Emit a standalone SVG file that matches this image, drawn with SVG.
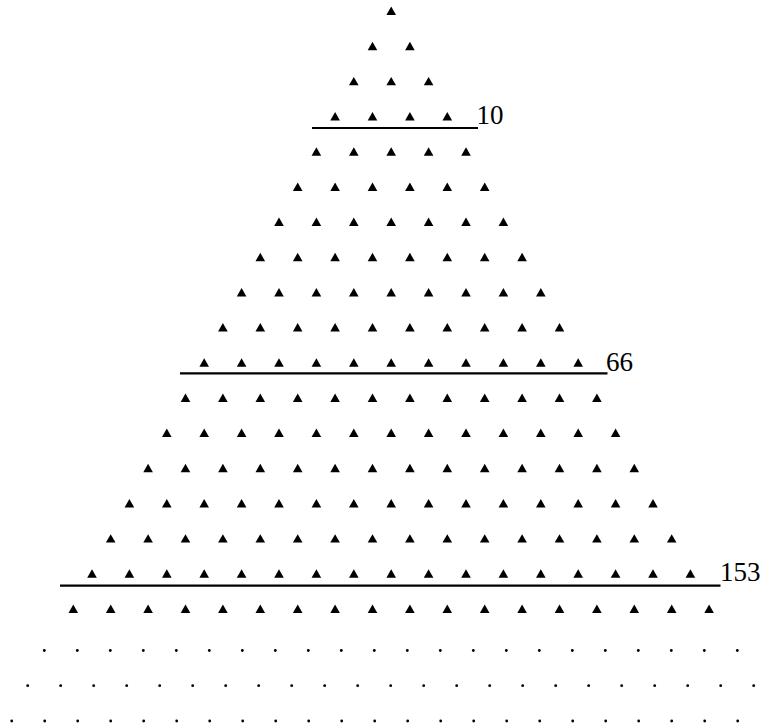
<svg xmlns="http://www.w3.org/2000/svg" xmlns:xlink="http://www.w3.org/1999/xlink" width="766" height="728" viewBox="0 0 766 728">
<style>
.sep{stroke:#000;stroke-width:2.2;fill:none}
.lbl{font-family:"Liberation Serif","Times New Roman",serif;font-size:27px;fill:#000}
.dot{fill:#000}
</style>
<defs>
<path id="t" d="M0,-8.4 L4.8,0 L-4.8,0 Z" fill="#000"/>
<circle id="d" r="1.4" fill="#000"/>
</defs>
<rect width="766" height="728" fill="#fff"/>
<g id="triangles">
<g id="row1" transform="translate(391.2,15)"><use href="#t" x="0"/></g>
<g id="row2" transform="translate(372.5,50.2)"><use href="#t" x="0"/><use href="#t" x="37.4"/></g>
<g id="row3" transform="translate(353.8,85.3)"><use href="#t" x="0"/><use href="#t" x="37.4"/><use href="#t" x="74.8"/></g>
<g id="row4" transform="translate(335.1,120.5)"><use href="#t" x="0"/><use href="#t" x="37.4"/><use href="#t" x="74.8"/><use href="#t" x="112.2"/></g>
<g id="row5" transform="translate(316.4,155.7)"><use href="#t" x="0"/><use href="#t" x="37.4"/><use href="#t" x="74.8"/><use href="#t" x="112.2"/><use href="#t" x="149.6"/></g>
<g id="row6" transform="translate(297.7,190.9)"><use href="#t" x="0"/><use href="#t" x="37.4"/><use href="#t" x="74.8"/><use href="#t" x="112.2"/><use href="#t" x="149.6"/><use href="#t" x="187"/></g>
<g id="row7" transform="translate(279,226)"><use href="#t" x="0"/><use href="#t" x="37.4"/><use href="#t" x="74.8"/><use href="#t" x="112.2"/><use href="#t" x="149.6"/><use href="#t" x="187"/><use href="#t" x="224.4"/></g>
<g id="row8" transform="translate(260.3,261.2)"><use href="#t" x="0"/><use href="#t" x="37.4"/><use href="#t" x="74.8"/><use href="#t" x="112.2"/><use href="#t" x="149.6"/><use href="#t" x="187"/><use href="#t" x="224.4"/><use href="#t" x="261.8"/></g>
<g id="row9" transform="translate(241.6,296.4)"><use href="#t" x="0"/><use href="#t" x="37.4"/><use href="#t" x="74.8"/><use href="#t" x="112.2"/><use href="#t" x="149.6"/><use href="#t" x="187"/><use href="#t" x="224.4"/><use href="#t" x="261.8"/><use href="#t" x="299.2"/></g>
<g id="row10" transform="translate(222.9,331.5)"><use href="#t" x="0"/><use href="#t" x="37.4"/><use href="#t" x="74.8"/><use href="#t" x="112.2"/><use href="#t" x="149.6"/><use href="#t" x="187"/><use href="#t" x="224.4"/><use href="#t" x="261.8"/><use href="#t" x="299.2"/><use href="#t" x="336.6"/></g>
<g id="row11" transform="translate(204.2,366.7)"><use href="#t" x="0"/><use href="#t" x="37.4"/><use href="#t" x="74.8"/><use href="#t" x="112.2"/><use href="#t" x="149.6"/><use href="#t" x="187"/><use href="#t" x="224.4"/><use href="#t" x="261.8"/><use href="#t" x="299.2"/><use href="#t" x="336.6"/><use href="#t" x="374"/></g>
<g id="row12" transform="translate(185.5,401.9)"><use href="#t" x="0"/><use href="#t" x="37.4"/><use href="#t" x="74.8"/><use href="#t" x="112.2"/><use href="#t" x="149.6"/><use href="#t" x="187"/><use href="#t" x="224.4"/><use href="#t" x="261.8"/><use href="#t" x="299.2"/><use href="#t" x="336.6"/><use href="#t" x="374"/><use href="#t" x="411.4"/></g>
<g id="row13" transform="translate(166.8,437)"><use href="#t" x="0"/><use href="#t" x="37.4"/><use href="#t" x="74.8"/><use href="#t" x="112.2"/><use href="#t" x="149.6"/><use href="#t" x="187"/><use href="#t" x="224.4"/><use href="#t" x="261.8"/><use href="#t" x="299.2"/><use href="#t" x="336.6"/><use href="#t" x="374"/><use href="#t" x="411.4"/><use href="#t" x="448.8"/></g>
<g id="row14" transform="translate(148.1,472.2)"><use href="#t" x="0"/><use href="#t" x="37.4"/><use href="#t" x="74.8"/><use href="#t" x="112.2"/><use href="#t" x="149.6"/><use href="#t" x="187"/><use href="#t" x="224.4"/><use href="#t" x="261.8"/><use href="#t" x="299.2"/><use href="#t" x="336.6"/><use href="#t" x="374"/><use href="#t" x="411.4"/><use href="#t" x="448.8"/><use href="#t" x="486.2"/></g>
<g id="row15" transform="translate(129.4,507.4)"><use href="#t" x="0"/><use href="#t" x="37.4"/><use href="#t" x="74.8"/><use href="#t" x="112.2"/><use href="#t" x="149.6"/><use href="#t" x="187"/><use href="#t" x="224.4"/><use href="#t" x="261.8"/><use href="#t" x="299.2"/><use href="#t" x="336.6"/><use href="#t" x="374"/><use href="#t" x="411.4"/><use href="#t" x="448.8"/><use href="#t" x="486.2"/><use href="#t" x="523.6"/></g>
<g id="row16" transform="translate(110.7,542.6)"><use href="#t" x="0"/><use href="#t" x="37.4"/><use href="#t" x="74.8"/><use href="#t" x="112.2"/><use href="#t" x="149.6"/><use href="#t" x="187"/><use href="#t" x="224.4"/><use href="#t" x="261.8"/><use href="#t" x="299.2"/><use href="#t" x="336.6"/><use href="#t" x="374"/><use href="#t" x="411.4"/><use href="#t" x="448.8"/><use href="#t" x="486.2"/><use href="#t" x="523.6"/><use href="#t" x="561"/></g>
<g id="row17" transform="translate(92,577.7)"><use href="#t" x="0"/><use href="#t" x="37.4"/><use href="#t" x="74.8"/><use href="#t" x="112.2"/><use href="#t" x="149.6"/><use href="#t" x="187"/><use href="#t" x="224.4"/><use href="#t" x="261.8"/><use href="#t" x="299.2"/><use href="#t" x="336.6"/><use href="#t" x="374"/><use href="#t" x="411.4"/><use href="#t" x="448.8"/><use href="#t" x="486.2"/><use href="#t" x="523.6"/><use href="#t" x="561"/><use href="#t" x="598.4"/></g>
<g id="row18" transform="translate(73.3,612.9)"><use href="#t" x="0"/><use href="#t" x="37.4"/><use href="#t" x="74.8"/><use href="#t" x="112.2"/><use href="#t" x="149.6"/><use href="#t" x="187"/><use href="#t" x="224.4"/><use href="#t" x="261.8"/><use href="#t" x="299.2"/><use href="#t" x="336.6"/><use href="#t" x="374"/><use href="#t" x="411.4"/><use href="#t" x="448.8"/><use href="#t" x="486.2"/><use href="#t" x="523.6"/><use href="#t" x="561"/><use href="#t" x="598.4"/><use href="#t" x="635.8"/></g>
</g>
<g id="dots">
<g id="row19" transform="translate(44.3,650.5)"><use href="#d" x="0"/><use href="#d" x="33"/><use href="#d" x="66"/><use href="#d" x="99"/><use href="#d" x="132"/><use href="#d" x="165"/><use href="#d" x="198"/><use href="#d" x="231"/><use href="#d" x="264"/><use href="#d" x="297"/><use href="#d" x="330"/><use href="#d" x="363"/><use href="#d" x="396"/><use href="#d" x="429"/><use href="#d" x="462"/><use href="#d" x="495"/><use href="#d" x="528"/><use href="#d" x="561"/><use href="#d" x="594"/><use href="#d" x="627"/><use href="#d" x="660"/><use href="#d" x="693"/></g>
<g id="row20" transform="translate(27.7,685.7)"><use href="#d" x="0"/><use href="#d" x="33"/><use href="#d" x="66"/><use href="#d" x="99"/><use href="#d" x="132"/><use href="#d" x="165"/><use href="#d" x="198"/><use href="#d" x="231"/><use href="#d" x="264"/><use href="#d" x="297"/><use href="#d" x="330"/><use href="#d" x="363"/><use href="#d" x="396"/><use href="#d" x="429"/><use href="#d" x="462"/><use href="#d" x="495"/><use href="#d" x="528"/><use href="#d" x="561"/><use href="#d" x="594"/><use href="#d" x="627"/><use href="#d" x="660"/><use href="#d" x="693"/><use href="#d" x="726"/></g>
<g id="row21" transform="translate(11.7,721)"><use href="#d" x="0"/><use href="#d" x="33"/><use href="#d" x="66"/><use href="#d" x="99"/><use href="#d" x="132"/><use href="#d" x="165"/><use href="#d" x="198"/><use href="#d" x="231"/><use href="#d" x="264"/><use href="#d" x="297"/><use href="#d" x="330"/><use href="#d" x="363"/><use href="#d" x="396"/><use href="#d" x="429"/><use href="#d" x="462"/><use href="#d" x="495"/><use href="#d" x="528"/><use href="#d" x="561"/><use href="#d" x="594"/><use href="#d" x="627"/><use href="#d" x="660"/><use href="#d" x="693"/><use href="#d" x="726"/></g>
</g>
<g id="separators">
<line class="sep" x1="312" y1="128" x2="478" y2="128"/>
<line class="sep" x1="180" y1="373.3" x2="607.5" y2="373.3"/>
<line class="sep" x1="60" y1="585.7" x2="720.5" y2="585.7"/>
</g>
<g id="labels">
<text class="lbl" x="476.5" y="123.5">10</text>
<text class="lbl" x="606" y="371">66</text>
<text class="lbl" x="720" y="581">153</text>
</g>
</svg>
